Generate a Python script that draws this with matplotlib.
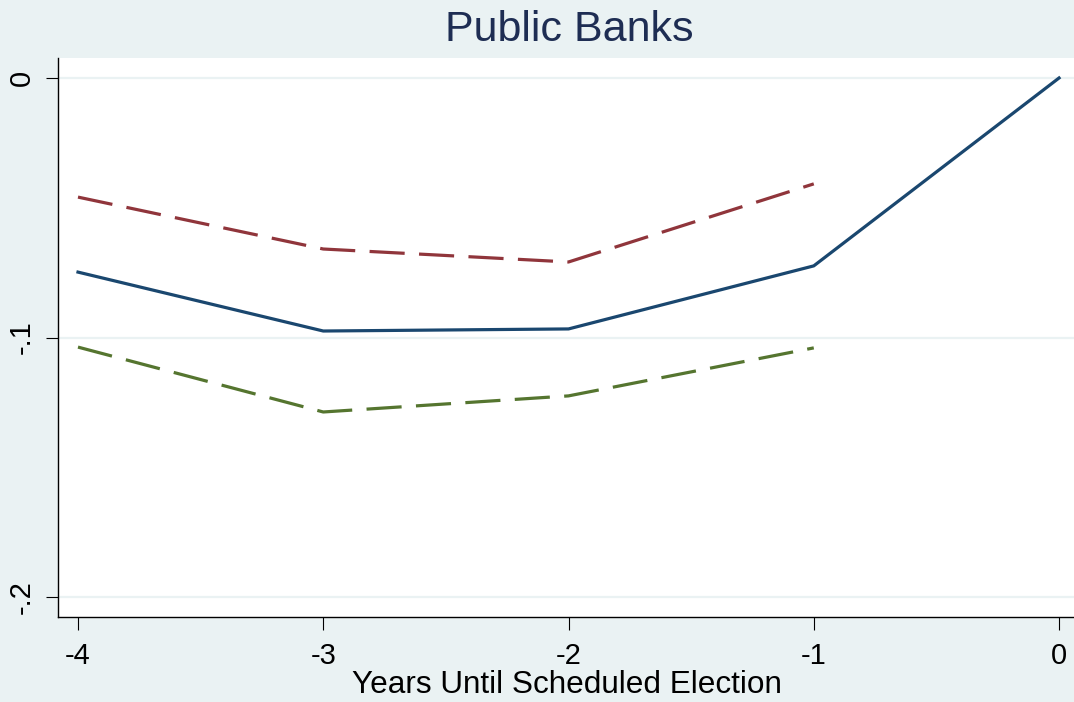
import matplotlib
matplotlib.use("Agg")
import matplotlib.pyplot as plt

# event-study estimates for public banks, with 95% bounds
years = [-4, -3, -2, -1, 0]
coef = [-0.0748, -0.0975, -0.0967, -0.0724, 0.0]
ci_years = [-4, -3, -2, -1]
ci_upper = [-0.0459, -0.0659, -0.0709, -0.0408]
ci_lower = [-0.1037, -0.1287, -0.1225, -0.1040]
yticks = [0, -0.1, -0.2]
ytick_labels = ["0", "-.1", "-.2"]

bg = "#EAF2F3"
navy = "#1A476F"
maroon = "#90353B"
green = "#55752F"

plt.rcParams["font.family"] = ["Liberation Sans", "DejaVu Sans"]

W, H = 1074, 702
fig = plt.figure(figsize=(W / 100, H / 100), dpi=100, facecolor=bg)
ax = fig.add_axes([58 / W, (H - 617) / H, (W - 58) / W, (617 - 58) / H])
ax.set_facecolor("white")

for t in yticks:
    ax.axhline(t, color=bg, linewidth=1.6, zorder=0)

ax.plot(years, coef, color=navy, linewidth=2.3, solid_joinstyle="round")
ax.plot(ci_years, ci_upper, color=maroon, linewidth=2.3, dashes=(11, 4.5))
ax.plot(ci_years, ci_lower, color=green, linewidth=2.3, dashes=(11, 4.5))

ax.set_xlim(-4.0815, 0.061)
ax.set_ylim(-0.2077, 0.0077)

ax.set_xticks(years)
ax.set_xticklabels([str(y) for y in years])
ax.set_yticks(yticks)
ax.set_yticklabels(ytick_labels, rotation=90, va="center")

ax.tick_params(axis="both", length=9, width=0.8, labelsize=21, colors="black", pad=7)
ax.tick_params(axis="x", pad=9)

for side in ["top", "right"]:
    ax.spines[side].set_visible(False)
for side in ["left", "bottom"]:
    ax.spines[side].set_color("black")
    ax.spines[side].set_linewidth(1.0)

fig.text(569 / W, 1 - 30 / H, "Public Banks", ha="center", va="center",
         fontsize=31, color="#1E2D53")
fig.text(567 / W, 1 - 685 / H, "Years Until Scheduled Election", ha="center",
         va="center", fontsize=22.7, color="black")

fig.savefig("out.png", dpi=100, facecolor=bg)
